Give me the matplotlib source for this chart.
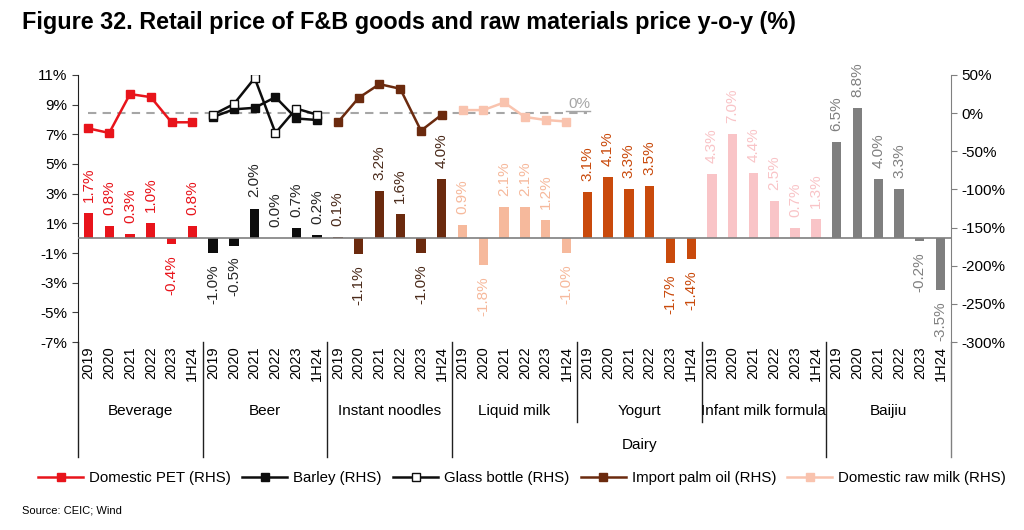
import numpy as np
import matplotlib.pyplot as plt
from matplotlib.lines import Line2D
from matplotlib.transforms import blended_transform_factory

plt.rcParams['font.family'] = ['Liberation Sans', 'DejaVu Sans']

# Categories
years = ['2019', '2020', '2021', '2022', '2023', '1H24']
groups = ['Beverage', 'Beer', 'Instant noodles', 'Liquid milk', 'Yogurt',
          'Infant milk formula', 'Baijiu']

# Retail price y-o-y (%), LHS bars
beverage = [1.7, 0.8, 0.3, 1.0, -0.4, 0.8]
beer = [-1.0, -0.5, 2.0, 0.0, 0.7, 0.2]
noodles = [0.1, -1.1, 3.2, 1.6, -1.0, 4.0]
liquid_milk = [0.9, -1.8, 2.1, 2.1, 1.2, -1.0]
yogurt = [3.1, 4.1, 3.3, 3.5, -1.7, -1.4]
infant = [4.3, 7.0, 4.4, 2.5, 0.7, 1.3]
baijiu = [6.5, 8.8, 4.0, 3.3, -0.2, -3.5]

# Raw material price y-o-y (%), RHS lines
domestic_pet = [-20, -26, 25, 21, -12, -12]
barley = [-5, 5, 7, 21, -7, -9]
glass_bottle = [-2, 12, 46, -26, 6, -2]
palm_oil = [-12, 20, 38, 32, -23, -2]
raw_milk = [4, 4, 14, -5, -9, -11]

bar_data = [beverage, beer, noodles, liquid_milk, yogurt, infant, baijiu]
bar_colors = ['#E8141B', '#0D0D0D', '#6B2A0E', '#F6B99C', '#C94A0C', '#F9C4C7', '#7F7F7F']
label_colors = ['#E8141B', '#262626', '#4A2A1A', '#F6B99C', '#C94A0C', '#F9C4C7', '#808080']

fig = plt.figure(figsize=(10.24, 5.30), dpi=100)
ax = fig.add_axes([0.0762, 0.3547, 0.8525, 0.5038])
ax2 = ax.twinx()

n = len(years)
for g, vals in enumerate(bar_data):
    x = np.arange(n) + g * n
    ax.bar(x, vals, width=0.45, color=bar_colors[g], zorder=2)
    for xi, v in zip(x, vals):
        up = v >= 0
        ax.annotate(f'{v:.1f}%', (xi, v), xytext=(0, 8 if up else -8),
                    textcoords='offset points', rotation=90, ha='center',
                    va='bottom' if up else 'top', color=label_colors[g],
                    fontsize=11)

ax.axhline(0, color='#7F7F7F', lw=1.2, zorder=3)
ax.set_xlim(-0.5, len(groups) * n - 0.5)
ax.set_ylim(-7, 11)
ax.set_yticks(np.arange(-7, 12, 2))
ax.set_yticklabels([f'{t}%' for t in range(-7, 12, 2)], fontsize=11)
ax.set_xticks(np.arange(len(groups) * n))
ax.set_xticklabels(years * len(groups), rotation=90, fontsize=10.5)
ax.tick_params(axis='x', length=0, pad=3)
ax.tick_params(axis='y', length=4, color='#404040')
for s in ['top', 'bottom', 'right']:
    ax.spines[s].set_visible(False)
ax.spines['left'].set_color('#202020')

# RHS lines
line_style = dict(lw=1.8, marker='s', markersize=5.5)
ax2.plot(np.arange(n), domestic_pet, color='#E8141B', **line_style)
ax2.plot(np.arange(n) + n, barley, color='#0D0D0D', **line_style)
ax2.plot(np.arange(n) + n, glass_bottle, color='#0D0D0D', markerfacecolor='white', **line_style)
ax2.plot(np.arange(n) + 2 * n, palm_oil, color='#6B2A0E', **line_style)
ax2.plot(np.arange(n) + 3 * n, raw_milk, color='#F9C3AE', **line_style)
ax2.plot([0, 4 * n], [0, 0], color='#A6A6A6', lw=1.5, ls=(0, (4, 3)), zorder=1)
ax2.text(4 * n - 0.4, 3, '0%', color='#A6A6A6', fontsize=11, ha='center', va='bottom')
ax2.plot([4 * n - 1.0, 4 * n + 0.15], [3, 3], color='#A6A6A6', lw=1)

ax2.set_ylim(-300, 50)
ax2.set_yticks(np.arange(-300, 51, 50))
ax2.set_yticklabels([f'{t}%' for t in range(-300, 51, 50)], fontsize=11)
ax2.tick_params(axis='y', length=4, color='#808080')
for s in ['top', 'bottom', 'left']:
    ax2.spines[s].set_visible(False)
ax2.spines['right'].set_color('#808080')

# group labels and separators below the axis
trans = blended_transform_factory(ax.transData, ax.transAxes)
for g, name in enumerate(groups):
    ax.text(g * n + (n - 1) / 2, -0.26, name, transform=trans, ha='center',
            va='center', fontsize=11)
ax.text(4 * n + (n - 1) / 2, -0.385, 'Dairy', transform=trans, ha='center',
        va='center', fontsize=11)
for g in range(len(groups) + 1):
    xb = g * n - 0.5
    low = -0.30 if g in (4, 5) else -0.43
    col = '#808080' if g == len(groups) else '#202020'
    ax.plot([xb, xb], [0, low], transform=trans, color=col, lw=1, clip_on=False)

handles = [
    Line2D([], [], color='#E8141B', marker='s', lw=1.8, markersize=6),
    Line2D([], [], color='#0D0D0D', marker='s', lw=1.8, markersize=6),
    Line2D([], [], color='#0D0D0D', marker='s', lw=1.8, markersize=6, markerfacecolor='white'),
    Line2D([], [], color='#6B2A0E', marker='s', lw=1.8, markersize=6),
    Line2D([], [], color='#F9C3AE', marker='s', lw=1.8, markersize=6),
]
labels = ['Domestic PET (RHS)', 'Barley (RHS)', 'Glass bottle (RHS)',
          'Import palm oil (RHS)', 'Domestic raw milk (RHS)']
fig.legend(handles, labels, loc='center', bbox_to_anchor=(0.51, 0.098), ncol=5,
           frameon=False, fontsize=10.8, handlelength=3, columnspacing=0.75,
           handletextpad=0.4)

fig.text(0.021, 0.958, 'Figure 32. Retail price of F&B goods and raw materials price y-o-y (%)',
         fontsize=16.8, fontweight='bold', va='center')
fig.text(0.021, 0.037, 'Source: CEIC; Wind', fontsize=8, va='center')

fig.savefig('out.png', dpi=100)
